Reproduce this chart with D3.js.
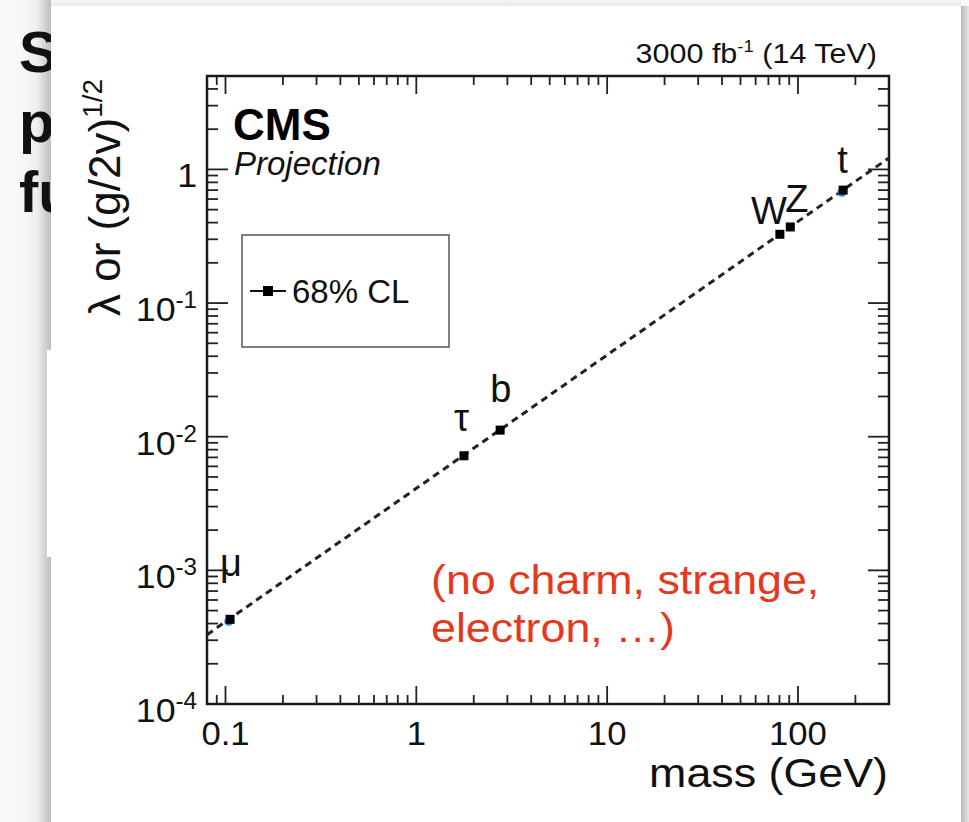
<!DOCTYPE html>
<html>
<head>
<meta charset="utf-8">
<script src="https://cdn.jsdelivr.net/npm/d3@7"></script>
<style>
  body { margin: 0; background: #f7f7f7; }
  svg { display: block; font-family: "Liberation Sans", Arial, Helvetica, sans-serif; }
</style>
</head>
<body>
<svg id="chart" width="969" height="822"></svg>
<script>
// values
const particles = ["μ", "τ", "b", "W", "Z", "t"]
const masses = [0.1057, 1.777, 2.75, 80.4, 91.19, 172.5]
const couplings = [4.3e-4, 7.2e-3, 1.12e-2, 0.327, 0.371, 0.70]
const relErrors = [0.06, 0.03, 0.03, 0.03, 0.03, 0.03]
// blue (expected) markers peeking out under mu and t
const expMasses = [0.104, 170]
const expCouplings = [4.15e-4, 0.675]
// dashed SM line, end points
const lineMass = [0.08, 300]
const lineCoupling = [3.3e-4, 1.22]
const xTickValues = [0.1, 1, 10, 100]
const xTickLabels = ["0.1", "1", "10", "100"]
const yTickValues = [1e-4, 1e-3, 1e-2, 1e-1, 1]
const yTickBase = ["10", "10", "10", "10", "1"]
const yTickExp = ["-4", "-3", "-2", "-1", ""]
const slideLines = ["S", "p", "fu"]
const noteLines = ["(no charm, strange,", "electron, …)"]

const svg = d3.select('#chart')

const frame = {left: 207, right: 889, top: 76, bottom: 704}
// the screenshot is a bit wider than tall, text looks stretched
const stretch = 1.12

// ---- slide background + panel with shadow
const defs = svg.append('defs')
const gl = defs.append('linearGradient').attr('id', 'shadowL')
gl.append('stop').attr('offset', '0%').attr('stop-color', '#f8f8f8')
gl.append('stop').attr('offset', '55%').attr('stop-color', '#eeeeee')
gl.append('stop').attr('offset', '100%').attr('stop-color', '#bdbdbd')
const gr = defs.append('linearGradient').attr('id', 'shadowR')
gr.append('stop').attr('offset', '0%').attr('stop-color', '#b8b8b8')
gr.append('stop').attr('offset', '100%').attr('stop-color', '#e6e6e6')
const gt = defs.append('linearGradient').attr('id', 'shadowT').attr('x2', 0).attr('y2', 1)
gt.append('stop').attr('offset', '0%').attr('stop-color', '#f6f6f6')
gt.append('stop').attr('offset', '100%').attr('stop-color', '#e9e9e9')

svg.append('rect').attr('width', 969).attr('height', 822).attr('fill', '#f8f8f8')
svg.append('rect').attr('x', 20).attr('y', 0).attr('width', 31).attr('height', 822).attr('fill', 'url(#shadowL)')
svg.append('rect').attr('x', 51).attr('y', 0).attr('width', 910).attr('height', 6).attr('fill', 'url(#shadowT)')
svg.append('rect').attr('x', 961).attr('y', 6).attr('width', 8).attr('height', 816).attr('fill', 'url(#shadowR)')

svg.append('g')
  .selectAll('text')
  .data(slideLines)
  .join('text')
  .attr('x', 19)
  .attr('y', (d, i) => 72 + i * 70)
  .attr('font-size', 58)
  .attr('font-weight', 'bold')
  .attr('fill', '#111')
  .text(d => d)

svg.append('rect').attr('x', 51).attr('y', 6).attr('width', 910).attr('height', 816).attr('fill', '#fff')
svg.append('rect').attr('x', 47).attr('y', 350).attr('width', 5).attr('height', 207).attr('fill', '#fff')

// ---- scales
const x = d3.scaleLog().domain([0.08, 300]).range([frame.left, frame.right])
const y = d3.scaleLog().domain([1e-4, 5]).range([frame.bottom, frame.top])

const chart = svg.append('g')

// minor + major ticks
const xAll = []
for (let e = -2; e <= 2; e++) {
  for (let m = 1; m <= 9; m++) {
    const v = m * Math.pow(10, e)
    if (v >= 0.08 && v <= 300) xAll.push({v: v, major: m == 1})
  }
}
const yAll = []
for (let e = -4; e <= 0; e++) {
  for (let m = 1; m <= 9; m++) {
    const v = m * Math.pow(10, e)
    if (v >= 1e-4 && v <= 5) yAll.push({v: v, major: m == 1})
  }
}

const tickColor = '#222'
chart.append('g').selectAll('line').data(xAll).join('line')
  .attr('x1', d => x(d.v)).attr('x2', d => x(d.v))
  .attr('y1', frame.bottom).attr('y2', d => frame.bottom - (d.major ? 18 : 9))
  .attr('stroke', tickColor).attr('stroke-width', 1.8)
chart.append('g').selectAll('line').data(xAll).join('line')
  .attr('x1', d => x(d.v)).attr('x2', d => x(d.v))
  .attr('y1', frame.top).attr('y2', d => frame.top + (d.major ? 18 : 9))
  .attr('stroke', tickColor).attr('stroke-width', 1.8)
chart.append('g').selectAll('line').data(yAll).join('line')
  .attr('y1', d => y(d.v)).attr('y2', d => y(d.v))
  .attr('x1', frame.left).attr('x2', d => frame.left + (d.major ? 21 : 11))
  .attr('stroke', tickColor).attr('stroke-width', 1.8)
chart.append('g').selectAll('line').data(yAll).join('line')
  .attr('y1', d => y(d.v)).attr('y2', d => y(d.v))
  .attr('x1', frame.right).attr('x2', d => frame.right - (d.major ? 21 : 11))
  .attr('stroke', tickColor).attr('stroke-width', 1.8)

chart.append('rect')
  .attr('x', frame.left).attr('y', frame.top)
  .attr('width', frame.right - frame.left).attr('height', frame.bottom - frame.top)
  .attr('fill', 'none').attr('stroke', '#1a1a1a').attr('stroke-width', 2.5)

// tick labels
chart.append('g').selectAll('text').data(xTickValues).join('text')
  .attr('transform', d => `translate(${x(d)},745) scale(1.05,1)`)
  .attr('text-anchor', 'middle').attr('font-size', 33).attr('fill', '#111')
  .text((d, i) => xTickLabels[i])

const yl = chart.append('g').selectAll('text').data(yTickValues).join('text')
  .attr('transform', d => `translate(197,${y(d) + 18}) scale(1.05,1)`)
  .attr('text-anchor', 'end').attr('font-size', 34).attr('fill', '#111')
yl.append('tspan').text((d, i) => yTickBase[i])
yl.append('tspan').attr('font-size', 23).attr('dy', -13).text((d, i) => yTickExp[i])

// axis titles
chart.append('text')
  .attr('transform', `translate(888,787) scale(${stretch},1)`)
  .attr('text-anchor', 'end').attr('font-size', 40).attr('fill', '#111')
  .text('mass (GeV)')

const yt = chart.append('text')
  .attr('transform', 'translate(120,79) rotate(-90)')
  .attr('text-anchor', 'end').attr('font-size', 44).attr('fill', '#111')
yt.append('tspan').text('λ or (g/2v)')
yt.append('tspan').attr('font-size', 28).attr('dy', -18).text('1/2')

// top right lumi label
const lumi = chart.append('text')
  .attr('transform', 'translate(877,63) scale(1.09,1)')
  .attr('text-anchor', 'end').attr('font-size', 28).attr('fill', '#111')
lumi.append('tspan').text('3000 fb')
lumi.append('tspan').attr('font-size', 17).attr('dy', -11).text('-1')
lumi.append('tspan').attr('dy', 11).text(' (14 TeV)')

// CMS Projection
chart.append('text').attr('x', 233).attr('y', 140)
  .attr('font-size', 44).attr('font-weight', 'bold').attr('fill', '#000').text('CMS')
chart.append('text').attr('x', 234).attr('y', 175)
  .attr('font-size', 33).attr('font-style', 'italic').attr('fill', '#111').text('Projection')

// legend
chart.append('rect').attr('x', 242).attr('y', 235).attr('width', 207).attr('height', 112)
  .attr('fill', '#fff').attr('stroke', '#555').attr('stroke-width', 1.5)
chart.append('line').attr('x1', 250).attr('x2', 286).attr('y1', 291).attr('y2', 291)
  .attr('stroke', '#111').attr('stroke-width', 2.2)
chart.append('rect').attr('x', 263).attr('y', 286).attr('width', 10).attr('height', 10).attr('fill', '#000')
chart.append('text').attr('x', 292).attr('y', 303)
  .attr('font-size', 33).attr('fill', '#111').text('68% CL')

// dashed SM line
chart.append('line')
  .attr('x1', x(lineMass[0])).attr('y1', y(lineCoupling[0]))
  .attr('x2', x(lineMass[1])).attr('y2', y(lineCoupling[1]))
  .attr('stroke', '#222').attr('stroke-width', 3).attr('stroke-dasharray', '7 5')

// expected markers (blue)
chart.append('g').selectAll('circle').data(expMasses).join('circle')
  .attr('cx', d => x(d)).attr('cy', (d, i) => y(expCouplings[i]))
  .attr('r', 4.5).attr('fill', '#2a8fe0')

// measured points with error bars
const pts = chart.append('g').selectAll('g').data(masses).join('g')
pts.append('line')
  .attr('x1', d => x(d)).attr('x2', d => x(d))
  .attr('y1', (d, i) => y(couplings[i] * (1 - relErrors[i])))
  .attr('y2', (d, i) => y(couplings[i] * (1 + relErrors[i])))
  .attr('stroke', '#000').attr('stroke-width', 2)
pts.append('rect')
  .attr('x', d => x(d) - 4.5).attr('y', (d, i) => y(couplings[i]) - 4.5)
  .attr('width', 9).attr('height', 9).attr('fill', '#000')

// particle names
const labelNudge = [[-10, -43], [-10, -25], [-10, -28], [-29, -10], [-5, -15], [-6, -17]]
chart.append('g').selectAll('text').data(particles).join('text')
  .attr('x', (d, i) => x(masses[i]) + labelNudge[i][0])
  .attr('y', (d, i) => y(couplings[i]) + labelNudge[i][1])
  .attr('font-size', 38).attr('fill', '#111')
  .text(d => d)

// red note
chart.append('g').selectAll('text').data(noteLines).join('text')
  .attr('transform', (d, i) => `translate(431,${594 + i * 48}) scale(${stretch},1)`)
  .attr('font-size', 40).attr('fill', '#e5391f')
  .text(d => d)
</script>
</body>
</html>
